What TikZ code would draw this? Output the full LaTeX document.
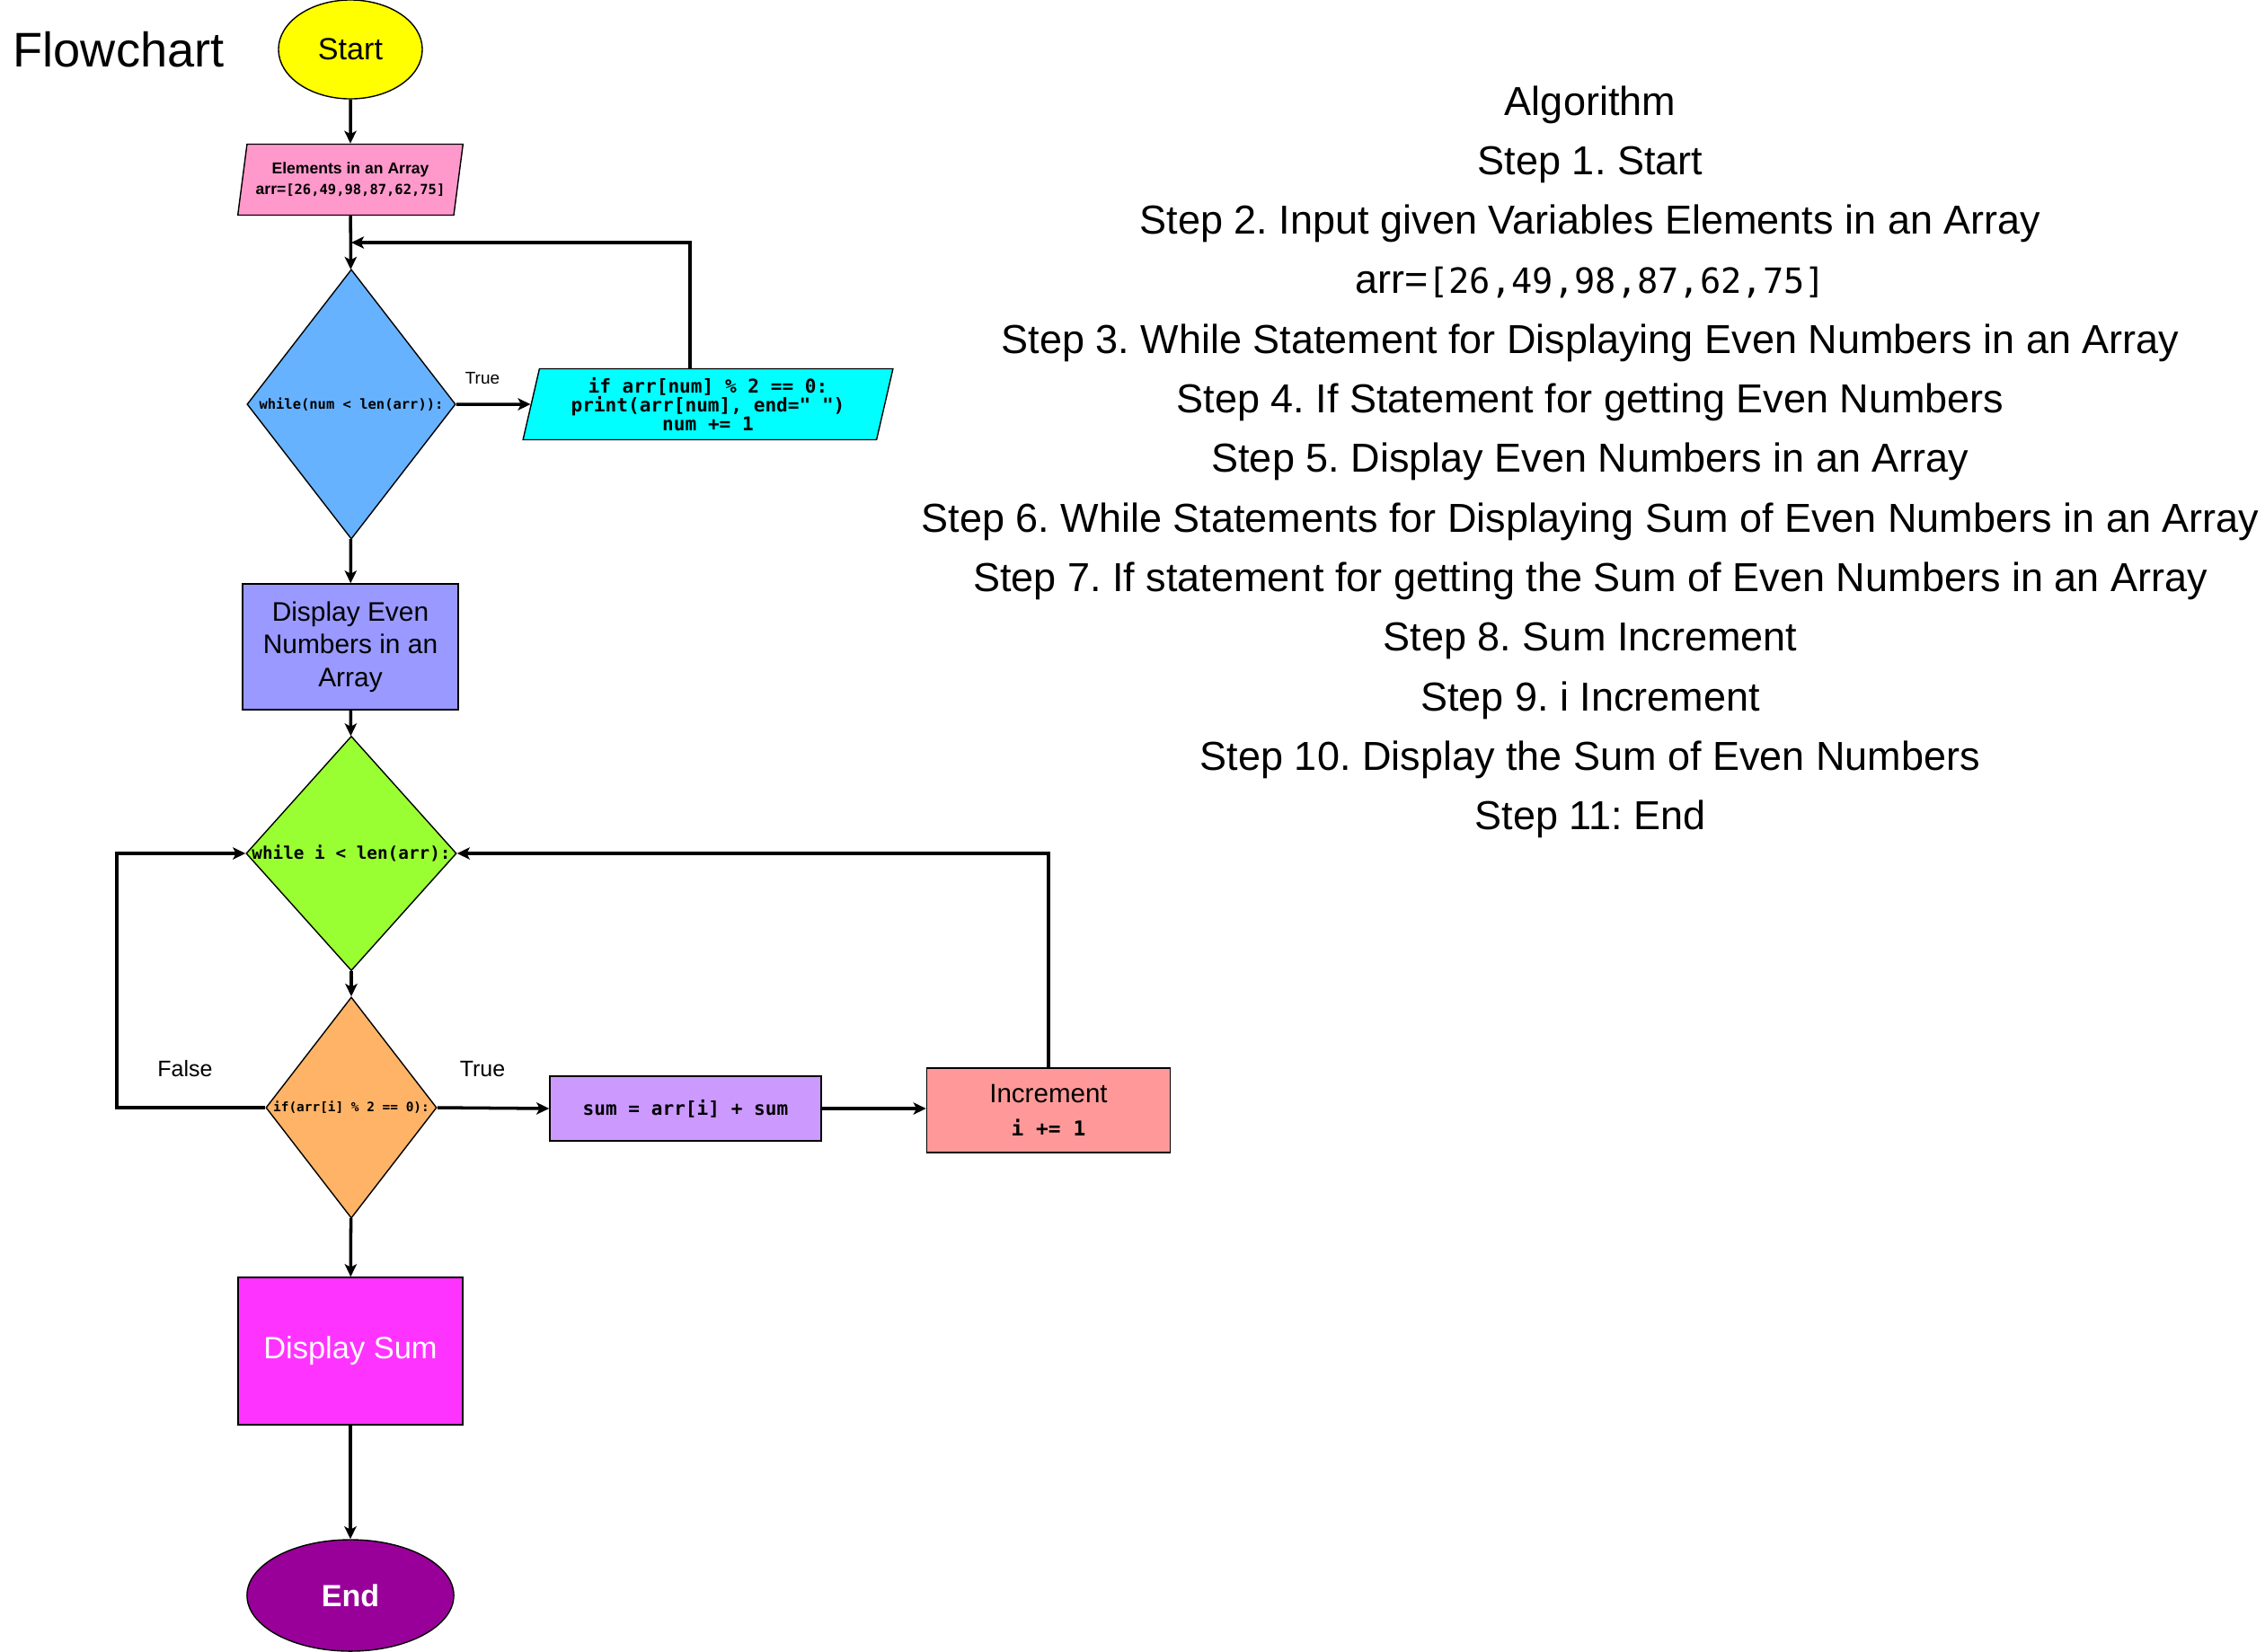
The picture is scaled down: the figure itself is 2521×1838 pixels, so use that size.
\documentclass[tikz,border=0pt]{standalone}
\usepackage{fontspec}
\setmainfont{Liberation Sans}
\setsansfont{Liberation Sans}
\setmonofont{DejaVu Sans Mono}
\usetikzlibrary{arrows.meta, shapes.geometric}
\frenchspacing

\begin{document}
\begin{tikzpicture}[x=0.01cm, y=-0.01cm]
    % Colors
    \definecolor{startcolor}{HTML}{FFFF00}
    \definecolor{inputcolor}{HTML}{FF99CC}
    \definecolor{whilecolor}{HTML}{66B2FF}
    \definecolor{printcolor}{HTML}{00FFFF}
    \definecolor{showcolor}{HTML}{9999FF}
    \definecolor{loopcolor}{HTML}{99FF33}
    \definecolor{checkcolor}{HTML}{FFB366}
    \definecolor{sumcolor}{HTML}{CC99FF}
    \definecolor{inccolor}{HTML}{FF9999}
    \definecolor{totalcolor}{HTML}{FF33FF}
    \definecolor{endcolor}{HTML}{990099}

    % Styles
    \tikzset{
        base/.style={draw=black, line width=0.4pt, inner sep=0pt, align=center},
        terminal/.style={base, ellipse},
        io/.style={base, trapezium, trapezium stretches=true,
            trapezium left angle=76, trapezium right angle=104},
        process/.style={base, rectangle},
        decision/.style={base, diamond},
        code/.style={font=\fontsize{#1}{#1}\selectfont\ttfamily\bfseries},
        lbl/.style={inner sep=0pt},
        steptext/.style={inner sep=0pt, anchor=base, font=\fontsize{12.8}{15}\selectfont},
        arrow/.style={line width=1pt, -{Stealth[length=4pt, width=3.8pt, inset=1pt]}},
    }

    \useasboundingbox (0,0) rectangle (2521,1838);

    % Title
    \node[lbl, anchor=base west, font=\fontsize{15.4}{18}\selectfont] (title) at (14,74) {Flowchart};

    % Flowchart nodes
    \node[terminal, fill=startcolor, minimum width=1.6cm, minimum height=1.1cm,
        font=\fontsize{9.7}{11}\selectfont] (start) at (390,55) {Start};
    \node[io, fill=inputcolor, minimum width=2.51cm, minimum height=0.79cm,
        font=\fontsize{5}{6.5}\selectfont\bfseries] (input) at (390,200)
        {Elements in an Array\\arr={\fontsize{4.4}{6.5}\selectfont\ttfamily[26,49,98,87,62,75]}};
    \node[decision, fill=whilecolor, minimum width=2.32cm, minimum height=3cm,
        label={[code=4.4]center:{while(num < len(arr)):}}] (whilenum) at (391,450) {};
    \node[io, fill=printcolor, minimum width=4.12cm, minimum height=0.79cm,
        code=6] (printnum) at (788,450)
        {if arr[num] \% 2 == 0:\\print(arr[num], end=" ")\\num += 1};
    \node[process, fill=showcolor, minimum width=2.4cm, minimum height=1.4cm,
        font=\fontsize{8.5}{10.4}\selectfont] (showeven) at (390,720)
        {Display Even\\Numbers in an\\Array};
    \node[decision, fill=loopcolor, minimum width=2.34cm, minimum height=2.61cm,
        label={[code=5.5]center:{while i < len(arr):}}] (whilei) at (391,950) {};
    \node[decision, fill=checkcolor, minimum width=1.9cm, minimum height=2.46cm,
        label={[code=4.1]center:{if(arr[i] \% 2 == 0):}}] (ifeven) at (391,1233) {};
    \node[process, fill=sumcolor, minimum width=3.02cm, minimum height=0.72cm,
        code=6] (addsum) at (763,1234) {sum = arr[i] + sum};
    \node[process, fill=inccolor, minimum width=2.71cm, minimum height=0.94cm,
        font=\fontsize{8.4}{10.5}\selectfont] (incr) at (1167,1236)
        {Increment\\{\fontsize{6.5}{7}\selectfont\ttfamily\bfseries i += 1}};
    \node[process, fill=totalcolor, text=white, minimum width=2.5cm, minimum height=1.64cm,
        font=\fontsize{9.8}{11}\selectfont] (showsum) at (390,1504) {Display Sum};
    \node[terminal, fill=endcolor, text=white, minimum width=2.3cm, minimum height=1.24cm,
        font=\fontsize{9.7}{11}\selectfont\bfseries] (end) at (390,1776) {End};

    % Branch labels
    \node[lbl, font=\fontsize{5.4}{6}\selectfont] (truenum) at (537,421) {True};
    \node[lbl, font=\fontsize{7.1}{8}\selectfont] (falsei) at (206,1190) {False};
    \node[lbl, font=\fontsize{7.1}{8}\selectfont] (truei) at (537,1190) {True};

    % Loop corners
    \coordinate (backnum) at (391,270);
    \coordinate (falseturn) at (130,1233);

    % Connectors
    \draw[arrow] (start) -- (input);
    \draw[arrow] (input) -- (whilenum);
    \draw[arrow] (whilenum.east) -- (printnum.west);
    \draw[arrow] ([xshift=-0.2cm]printnum.north) |- (backnum);
    \draw[arrow] (whilenum) -- (showeven);
    \draw[arrow] (showeven) -- (whilei);
    \draw[arrow] (whilei) -- (ifeven);
    \draw[arrow] (ifeven.east) -- (addsum.west);
    \draw[arrow] (addsum.east) -- (addsum.east -| incr.west);
    \draw[arrow] (incr.north) |- (whilei.east);
    \draw[arrow] (ifeven.west) -- (falseturn) |- (whilei.west);
    \draw[arrow] (ifeven) -- (showsum);
    \draw[arrow] (showsum) -- (end);

    % Algorithm
    \foreach \txt [count=\k from 0] in {Algorithm, Step 1. Start,
        Step 2. Input given Variables Elements in an Array,
        {arr={\fontsize{11}{15}\selectfont\ttfamily[26,49,98,87,62,75]}},
        Step 3. While Statement for Displaying Even Numbers in an Array,
        Step 4. If Statement for getting Even Numbers,
        Step 5. Display Even Numbers in an Array,
        Step 6. While Statements for Displaying Sum of Even Numbers in an Array,
        Step 7. If statement for getting the Sum of Even Numbers in an Array,
        Step 8. Sum Increment, Step 9. i Increment,
        Step 10. Display the Sum of Even Numbers, Step 11: End} {
        \node[steptext] (alg\k) at (1770,128+66.3*\k) {\txt};
    }
\end{tikzpicture}
\end{document}
